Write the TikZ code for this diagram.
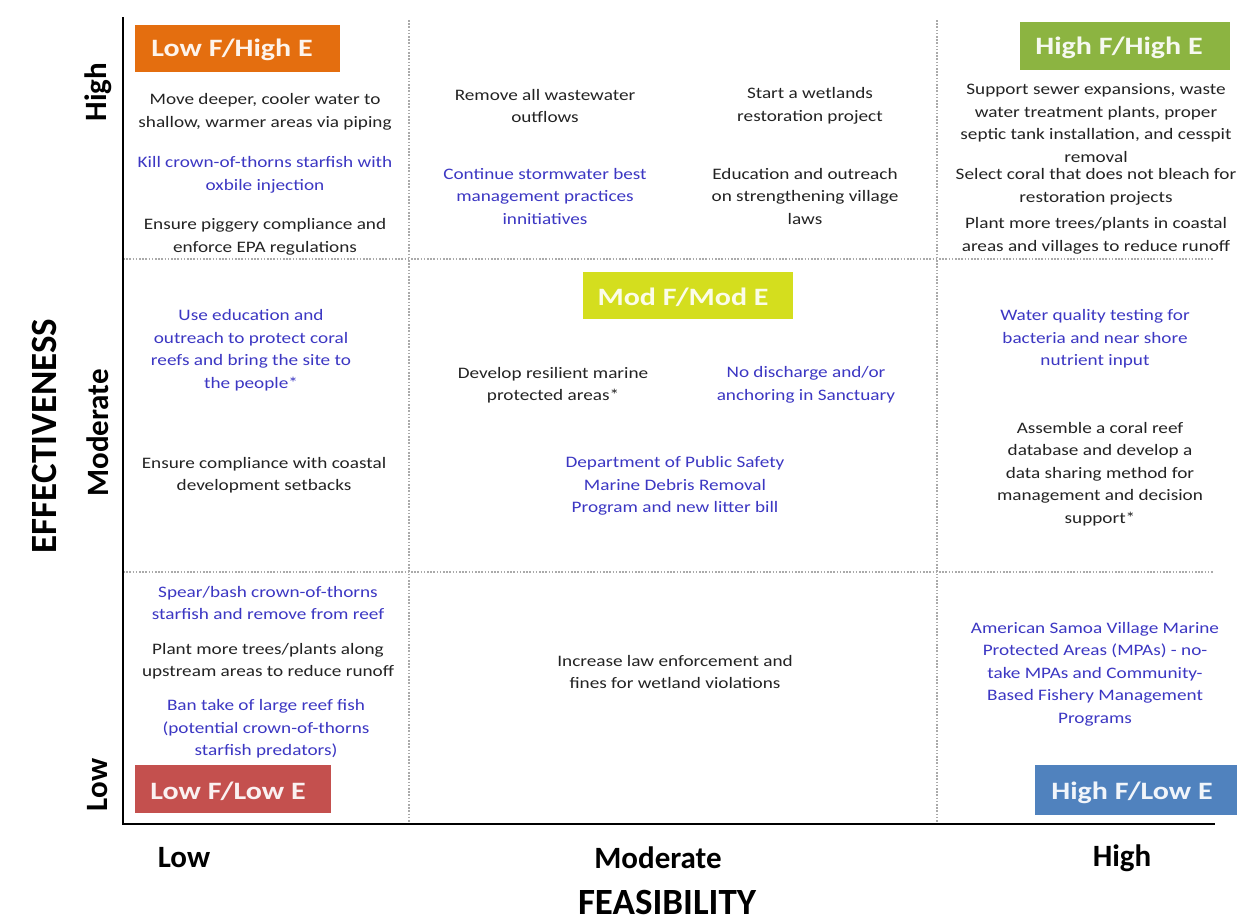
\documentclass[tikz,border=0pt]{standalone}
\usepackage{fontspec}
\setmainfont{Carlito}
\newfontfamily\bodyfont{Carlito}[FakeStretch=1.2]
\definecolor{txtblack}{RGB}{35,35,35}
\definecolor{txtblue}{RGB}{60,55,195}
\definecolor{gridgray}{RGB}{170,170,170}
\definecolor{lfhe}{RGB}{228,110,15}
\definecolor{hfhe}{RGB}{140,180,65}
\definecolor{mfme}{RGB}{212,222,30}
\definecolor{lfle}{RGB}{196,80,78}
\definecolor{hfle}{RGB}{80,130,190}
\tikzset{
  x=1pt,y=-1pt,
  item/.style={align=center,font=\bodyfont\fontsize{16}{22.5}\selectfont,text=txtblack,inner sep=0pt},
  itemb/.style={item,text=txtblue},
  tagbox/.style={inner sep=0pt,anchor=north west},
  tagtext/.style={font=\bodyfont\fontsize{25}{28}\selectfont\bfseries,inner sep=0pt},
  axlab/.style={font=\fontsize{31}{34}\selectfont\bfseries,text=black},
  axtitle/.style={font=\fontsize{37}{40}\selectfont\bfseries,text=black,inner sep=0pt},
  gridline/.style={gridgray,line width=1.6pt,dash pattern=on 1.6pt off 1.6pt},
  axisline/.style={black,line width=2.5pt}
}
\begin{document}
\begin{tikzpicture}
\useasboundingbox[fill=white] (0,0) rectangle (1248,922);
% grid
\coordinate (gv1t) at (409,20); \coordinate (gv1b) at (409,823);
\coordinate (gv2t) at (937,20); \coordinate (gv2b) at (937,823);
\coordinate (gh1l) at (123,259); \coordinate (gh1r) at (1214,259);
\coordinate (gh2l) at (123,572); \coordinate (gh2r) at (1214,572);
\draw[gridline] (gv1t) -- (gv1b);
\draw[gridline] (gv2t) -- (gv2b);
\draw[gridline] (gh1l) -- (gh1r);
\draw[gridline] (gh2l) -- (gh2r);
% axes
\coordinate (atop) at (123,17);
\coordinate (aorig) at (123,824);
\coordinate (aright) at (1215,824);
\draw[axisline] (atop) -- (aorig) -- (aright);
% tags
\node[tagbox,fill=lfhe,minimum width=205,minimum height=47] (t1) at (135,25) {};
\node[tagtext,text=white!92!lfhe] (t1t) at (232,50) {Low F/High E};
\node[tagbox,fill=hfhe,minimum width=210,minimum height=48] (t2) at (1020,22) {};
\node[tagtext,text=white!92!hfhe] (t2t) at (1119,48) {High F/High E};
\node[tagbox,fill=mfme,minimum width=210,minimum height=47] (t3) at (583,272) {};
\node[tagtext,text=white!90!mfme] (t3t) at (683,297) {Mod F/Mod E};
\node[tagbox,fill=lfle,minimum width=196,minimum height=48] (t4) at (135,765) {};
\node[tagtext,text=white!92!lfle] (t4t) at (228,791) {Low F/Low E};
\node[tagbox,fill=hfle,minimum width=202,minimum height=50] (t5) at (1035,765) {};
\node[tagtext,text=white!92!hfle] (t5t) at (1132,793) {High F/Low E};
% top-left
\node[item] (a1) at (265,112) {Move deeper, cooler water to\\shallow, warmer areas via piping};
\node[itemb] (a2) at (265,175) {Kill crown-of-thorns starfish with\\oxbile injection};
\node[item] (a3) at (265,237) {Ensure piggery compliance and\\enforce EPA regulations};
% top-middle
\node[item] (b1) at (545,106) {Remove all wastewater\\outflows};
\node[item] (b2) at (810,106) {Start a wetlands\\restoration project};
\node[itemb] (b3) at (545,196) {Continue stormwater best\\management practices\\innitiatives};
\node[item] (b4) at (805,196) {Education and outreach\\on strengthening village\\laws};
% top-right
\node[item] (c1) at (1096,123) {Support sewer expansions, waste\\water treatment plants, proper\\septic tank installation, and cesspit\\removal};
\node[item] (c2) at (1096,187) {Select coral that does not bleach for\\restoration projects};
\node[item] (c3) at (1096,236) {Plant more trees/plants in coastal\\areas and villages to reduce runoff};
% middle-left
\node[itemb] (d1) at (251,350) {Use education and\\outreach to protect coral\\reefs and bring the site to\\the people*};
\node[item] (d2) at (264,475) {Ensure compliance with coastal\\development setbacks};
% middle-middle
\node[item] (e1) at (553,385) {Develop resilient marine\\protected areas*};
\node[itemb] (e2) at (806,385) {No discharge and/or\\anchoring in Sanctuary};
\node[itemb] (e3) at (675,486) {Department of Public Safety\\Marine Debris Removal\\Program and new litter bill};
% middle-right
\node[itemb] (f1) at (1095,339) {Water quality testing for\\bacteria and near shore\\nutrient input};
\node[item] (f2) at (1100,474) {Assemble a coral reef\\database and develop a\\data sharing method for\\management and decision\\support*};
% bottom-left
\node[itemb] (g1) at (268,603) {Spear/bash crown-of-thorns\\starfish and remove from reef};
\node[item] (g2) at (268,661) {Plant more trees/plants along\\upstream areas to reduce runoff};
\node[itemb] (g3) at (266,729) {Ban take of large reef fish\\(potential crown-of-thorns\\starfish predators)};
% bottom-middle
\node[item] (h1) at (675,672) {Increase law enforcement and\\fines for wetland violations};
% bottom-right
\node[itemb] (i1) at (1095,674) {American Samoa Village Marine\\Protected Areas (MPAs) - no-\\take MPAs and Community-\\Based Fishery Management\\Programs};
% axis labels
\node[axlab,rotate=90] (yh) at (98,92) {High};
\node[axlab,rotate=90] (ym) at (98,433) {Moderate};
\node[axlab,rotate=90] (yl) at (98,785) {Low};
\node[axtitle,rotate=90] (yt) at (44,436) {EFFECTIVENESS};
\node[axlab] (xl) at (184,858) {Low};
\node[axlab] (xm) at (658,858) {Moderate};
\node[axlab] (xh) at (1122,858) {High};
\node[axtitle] (xt) at (667,902) {FEASIBILITY};
\end{tikzpicture}
\end{document}
